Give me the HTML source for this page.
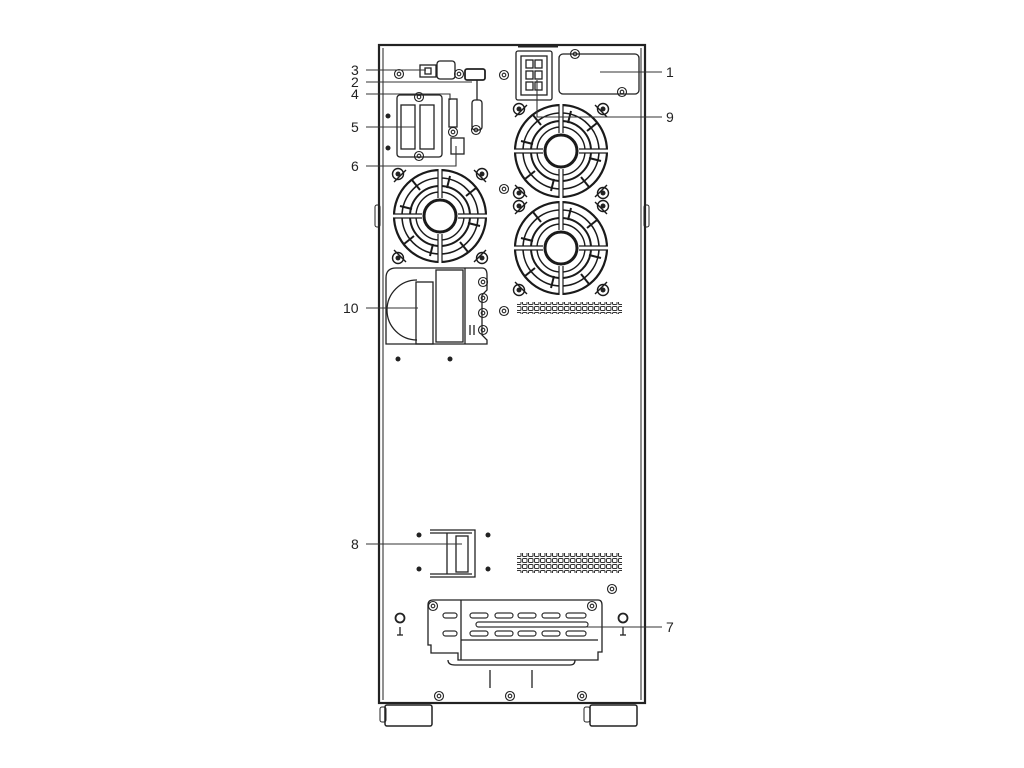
<!DOCTYPE html>
<html><head><meta charset="utf-8"><style>
html,body{margin:0;padding:0;background:#fff;}
svg{display:block;}
text{font-family:"Liberation Sans",sans-serif;font-size:14px;fill:#222;}
</style></head><body>
<svg width="1024" height="768" viewBox="0 0 1024 768" xmlns="http://www.w3.org/2000/svg">
<defs>
<g id="fan" fill="none" stroke="#1a1a1a">
  <circle r="46" stroke-width="2.2"/>
  <circle r="38" stroke-width="1.6"/>
  <circle r="30" stroke-width="2"/>
  <circle r="24" stroke-width="1.4"/>
  <circle r="16" stroke-width="3"/>
  <g stroke="#fff" stroke-width="3">
    <line x1="0" y1="-48" x2="0" y2="-18"/><line x1="0" y1="48" x2="0" y2="18"/>
    <line x1="-48" y1="0" x2="-18" y2="0"/><line x1="48" y1="0" x2="18" y2="0"/>
  </g>
  <g stroke-width="1.2">
    <line x1="-2" y1="-47" x2="-2" y2="-18"/><line x1="2" y1="-47" x2="2" y2="-18"/>
    <line x1="-2" y1="47" x2="-2" y2="18"/><line x1="2" y1="47" x2="2" y2="18"/>
    <line x1="-47" y1="-2" x2="-18" y2="-2"/><line x1="-47" y1="2" x2="-18" y2="2"/>
    <line x1="47" y1="-2" x2="18" y2="-2"/><line x1="47" y1="2" x2="18" y2="2"/>
  </g>
  <g stroke-width="2">
    <line x1="-28" y1="-36" x2="-20" y2="-26"/><line x1="28" y1="36" x2="20" y2="26"/>
    <line x1="36" y1="-28" x2="26" y2="-20"/><line x1="-36" y1="28" x2="-26" y2="20"/>
    <line x1="-40" y1="-10" x2="-28" y2="-7"/><line x1="40" y1="10" x2="28" y2="7"/>
    <line x1="10" y1="-40" x2="7" y2="-28"/><line x1="-10" y1="40" x2="-7" y2="28"/>
  </g>
  <g stroke-width="1.4">
    <path d="M-46 -34 L-34 -46"/><path d="M46 -34 L34 -46"/><path d="M-46 34 L-34 46"/><path d="M46 34 L34 46"/>
    <circle cx="-42" cy="-42" r="5.5"/><circle cx="42" cy="-42" r="5.5"/>
    <circle cx="-42" cy="42" r="5.5"/><circle cx="42" cy="42" r="5.5"/>
  </g>
  <g fill="#222" stroke="none">
    <circle cx="-42" cy="-42" r="2.5"/><circle cx="42" cy="-42" r="2.5"/>
    <circle cx="-42" cy="42" r="2.5"/><circle cx="42" cy="42" r="2.5"/>
  </g>
</g>
<g id="scr" fill="none" stroke="#222" stroke-width="1.1"><circle r="4.5"/><circle r="1.8"/></g>
<pattern id="vent" width="6" height="6" patternUnits="userSpaceOnUse"><rect x="0.5" y="0.5" width="4.5" height="4" rx="1" fill="none" stroke="#333" stroke-width="1"/></pattern>
</defs>

<g fill="none" stroke="#222">
  <rect x="379" y="45" width="266" height="658" stroke-width="2.2"/>
  <line x1="383" y1="48" x2="383" y2="700" stroke-width="1"/>
  <line x1="641" y1="48" x2="641" y2="700" stroke-width="1"/>
  <line x1="518" y1="46" x2="558" y2="46" stroke-width="3"/>
  <rect x="375" y="205" width="5" height="22" rx="2"/>
  <rect x="644" y="205" width="5" height="22" rx="2"/>
  <rect x="385" y="705" width="47" height="21" rx="2" stroke-width="1.5"/>
  <rect x="380" y="707" width="6" height="15" rx="2"/>
  <rect x="590" y="705" width="47" height="21" rx="2" stroke-width="1.5"/>
  <rect x="584" y="707" width="6" height="15" rx="2"/>
</g>
<use href="#scr" x="439" y="696"/><use href="#scr" x="510" y="696"/><use href="#scr" x="582" y="696"/>

<use href="#fan" x="440" y="216"/>
<use href="#fan" x="561" y="151"/>
<use href="#fan" x="561" y="248"/>
<use href="#scr" x="504" y="75"/><use href="#scr" x="504" y="189"/><use href="#scr" x="504" y="311"/>

<rect x="559" y="54" width="80" height="40" rx="4" fill="none" stroke="#222" stroke-width="1.3"/>
<use href="#scr" x="575" y="54"/><use href="#scr" x="622" y="92"/>

<g fill="none" stroke="#222" stroke-width="1.3">
  <rect x="516" y="51" width="36" height="49" rx="2"/>
  <rect x="521" y="56" width="26" height="39"/>
  <rect x="526" y="60" width="7" height="8"/><rect x="535" y="60" width="7" height="8"/>
  <rect x="526" y="71" width="7" height="8"/><rect x="535" y="71" width="7" height="8"/>
  <rect x="526" y="82" width="7" height="8"/><rect x="535" y="82" width="7" height="8"/>
</g>

<g fill="none" stroke="#222" stroke-width="1.3">
  <rect x="420" y="65" width="16" height="12"/><rect x="425" y="68" width="6" height="6"/>
  <rect x="437" y="61" width="18" height="18" rx="3"/>
  <rect x="465" y="69" width="20" height="11" rx="2" stroke-width="1.8"/>
  <rect x="472" y="100" width="10" height="30" rx="3"/>
  <line x1="477" y1="80" x2="477" y2="100"/>
  <rect x="449" y="99" width="8" height="28"/>
  <rect x="397" y="95" width="45" height="62" rx="3"/>
  <rect x="401" y="105" width="14" height="44"/><rect x="420" y="105" width="14" height="44"/>
  <rect x="451" y="138" width="13" height="16"/>
</g>
<use href="#scr" x="399" y="74"/><use href="#scr" x="459" y="74"/>
<use href="#scr" x="419" y="97"/><use href="#scr" x="419" y="156"/><use href="#scr" x="453" y="132"/><use href="#scr" x="476" y="130"/>
<circle cx="388" cy="116" r="2.5" fill="#222"/><circle cx="388" cy="148" r="2.5" fill="#222"/>

<g fill="none" stroke="#222" stroke-width="1.3">
  <path d="M386 278 Q386 268 396 268 L482 268 Q487 268 487 275 L487 290 L482 295 L482 335 L487 340 L487 344 L386 344 Z"/>
  <path d="M417 280 A30 30 0 0 0 417 340"/>
  <rect x="416" y="282" width="17" height="62"/>
  <rect x="436" y="270" width="27" height="72"/>
  <line x1="465" y1="268" x2="465" y2="344"/>
  <line x1="470" y1="325" x2="470" y2="335"/><line x1="474" y1="325" x2="474" y2="335"/>
</g>
<use href="#scr" x="483" y="282"/><use href="#scr" x="483" y="298"/><use href="#scr" x="483" y="313"/><use href="#scr" x="483" y="330"/>
<circle cx="398" cy="359" r="2.5" fill="#222"/><circle cx="450" cy="359" r="2.5" fill="#222"/>

<rect x="517" y="302" width="105" height="12" fill="url(#vent)"/>
<rect x="517" y="553" width="105" height="20" fill="url(#vent)"/>

<g fill="none" stroke="#222" stroke-width="1.3">
  <path d="M430 530 L475 530 L475 577 L430 577 M430 533 L472 533 M430 574 L472 574 M447 533 L447 574"/>
  <rect x="456" y="536" width="12" height="36"/>
</g>
<circle cx="419" cy="535" r="2.5" fill="#222"/><circle cx="488" cy="535" r="2.5" fill="#222"/>
<circle cx="419" cy="569" r="2.5" fill="#222"/><circle cx="488" cy="569" r="2.5" fill="#222"/>
<use href="#scr" x="612" y="589"/>

<g fill="none" stroke="#222" stroke-width="1.3">
  <path d="M428 605 Q428 600 433 600 L598 600 Q602 600 602 605 L602 652 L598 652 L598 660 L458 660 L458 653 L431 653 L431 645 L428 645 Z"/>
  <line x1="461" y1="600" x2="461" y2="660"/>
  <line x1="461" y1="640" x2="598" y2="640"/>
  <path d="M448 660 Q448 665 455 665 L570 665 Q575 665 575 660"/>
  <line x1="490" y1="670" x2="490" y2="688"/><line x1="532" y1="670" x2="532" y2="688"/>
</g>
<g fill="none" stroke="#333" stroke-width="1.2">
  <rect x="470" y="613" width="18" height="5" rx="2.5"/><rect x="495" y="613" width="18" height="5" rx="2.5"/><rect x="518" y="613" width="18" height="5" rx="2.5"/><rect x="542" y="613" width="18" height="5" rx="2.5"/><rect x="566" y="613" width="20" height="5" rx="2.5"/>
  <rect x="476" y="622" width="112" height="5" rx="2.5"/>
  <rect x="470" y="631" width="18" height="5" rx="2.5"/><rect x="495" y="631" width="18" height="5" rx="2.5"/><rect x="518" y="631" width="18" height="5" rx="2.5"/><rect x="542" y="631" width="18" height="5" rx="2.5"/><rect x="566" y="631" width="20" height="5" rx="2.5"/>
  <rect x="443" y="613" width="14" height="5" rx="2.5"/><rect x="443" y="631" width="14" height="5" rx="2.5"/>
</g>
<use href="#scr" x="433" y="606"/><use href="#scr" x="592" y="606"/>
<g fill="none" stroke="#222" stroke-width="1.8"><circle cx="400" cy="618" r="4.5"/><circle cx="623" cy="618" r="4.5"/></g>
<g stroke="#222" stroke-width="1.3"><line x1="400" y1="627" x2="400" y2="635"/><line x1="397" y1="635" x2="403" y2="635"/><line x1="623" y1="627" x2="623" y2="635"/><line x1="620" y1="635" x2="626" y2="635"/></g>

<g stroke="#333" stroke-width="1.1" fill="none">
  <line x1="366" y1="70" x2="426" y2="70"/>
  <line x1="366" y1="82" x2="472" y2="82"/>
  <polyline points="366,94 450,94 450,100"/>
  <line x1="366" y1="127" x2="415" y2="127"/>
  <polyline points="366,166 456,166 456,146"/>
  <line x1="600" y1="72" x2="662" y2="72"/>
  <polyline points="537,80 537,117 662,117"/>
  <line x1="366" y1="308" x2="418" y2="308"/>
  <line x1="366" y1="544" x2="462" y2="544"/>
  <line x1="560" y1="627" x2="662" y2="627"/>
</g>
<text x="351" y="75">3</text>
<text x="351" y="87">2</text>
<text x="351" y="99">4</text>
<text x="351" y="132">5</text>
<text x="351" y="171">6</text>
<text x="666" y="77">1</text>
<text x="666" y="122">9</text>
<text x="343" y="313">10</text>
<text x="351" y="549">8</text>
<text x="666" y="632">7</text>
</svg>
</body></html>
